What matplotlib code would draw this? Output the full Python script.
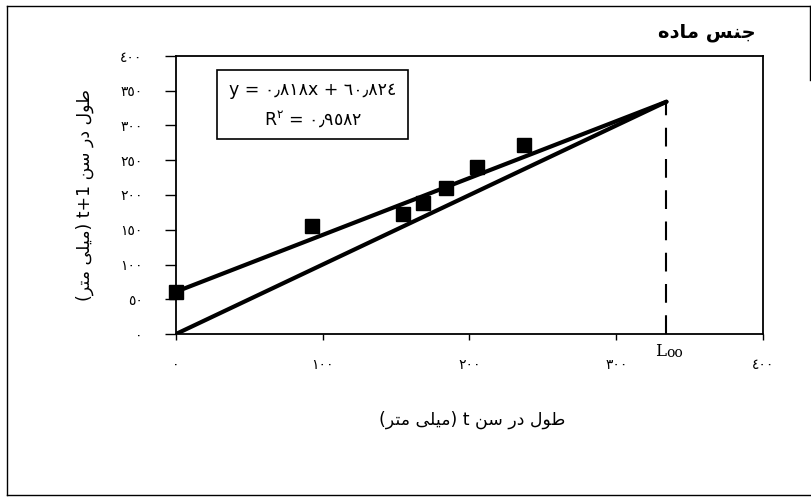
import re
import numpy as np
import matplotlib
matplotlib.use('Agg')
import matplotlib.pyplot as plt
from matplotlib.patches import Rectangle
from matplotlib.lines import Line2D

# lengths at age t and t+1 (mm)
len_t = [0, 93, 155, 168, 184, 205, 237]
len_t1 = [60, 156, 172, 189, 210, 241, 272]

slope = 0.818
intercept = 60.824
x_ticks = [0, 100, 200, 300, 400]
y_ticks = [0, 50, 100, 150, 200, 250, 300, 350, 400]

title = 'جنس ماده'
xlabel = 'طول در سن t (میلی متر)'
ylabel = 'طول در سن t+1 (میلی متر)'
eq_text = 'y = ٠٫٨١٨x + ٦٠٫٨٢٤'
r2_text = r'$\mathregular{R^{٢}}$ = ٠٫٩٥٨٢'

# matplotlib has no arabic shaping, so do it by hand with presentation forms
FORMS = {
    'ا': ('\uFE8D', '\uFE8E', None, None),
    'د': ('\uFEA9', '\uFEAA', None, None),
    'ر': ('\uFEAD', '\uFEAE', None, None),
    'و': ('\uFEED', '\uFEEE', None, None),
    'ج': ('\uFE9D', '\uFE9E', '\uFE9F', '\uFEA0'),
    'ن': ('\uFEE5', '\uFEE6', '\uFEE7', '\uFEE8'),
    'س': ('\uFEB1', '\uFEB2', '\uFEB3', '\uFEB4'),
    'م': ('\uFEE1', '\uFEE2', '\uFEE3', '\uFEE4'),
    'ه': ('\uFEE9', '\uFEEA', '\uFEEB', '\uFEEC'),
    'ط': ('\uFEC1', '\uFEC2', '\uFEC3', '\uFEC4'),
    'ل': ('\uFEDD', '\uFEDE', '\uFEDF', '\uFEE0'),
    'ت': ('\uFE95', '\uFE96', '\uFE97', '\uFE98'),
    'ی': ('\uFEEF', '\uFEF0', '\uFEF3', '\uFEF4'),
}


def shape(s):
    out = []
    for i, c in enumerate(s):
        f = FORMS.get(c)
        if f is None:
            out.append(c)
            continue
        prev = s[i - 1] if i > 0 else ''
        nxt = s[i + 1] if i + 1 < len(s) else ''
        jp = prev in FORMS and FORMS[prev][2] is not None
        jn = nxt in FORMS
        if jp and jn and f[3]:
            out.append(f[3])
        elif jp:
            out.append(f[1])
        elif jn and f[2]:
            out.append(f[2])
        else:
            out.append(f[0])
    return ''.join(out)


def fa(s):
    parts = re.findall(r'[A-Za-z0-9+]+|.', shape(s))
    mirror = {'(': ')', ')': '('}
    return ''.join(mirror.get(p, p) for p in reversed(parts))


def ar_num(v):
    return str(v).translate(str.maketrans('0123456789', '٠١٢٣٤٥٦٧٨٩'))


plt.rcParams['font.family'] = ['DejaVu Sans']

fig = plt.figure(figsize=(8.12, 4.97), dpi=100)
ax = fig.add_axes([176 / 812, 1 - 334 / 497, 587 / 812, 278 / 497])

L_inf = intercept / (1 - slope)

xs = np.array([0, L_inf])
ax.plot(xs, slope * xs + intercept, color='black', lw=3, solid_capstyle='round', zorder=3)
ax.plot(xs, xs, color='black', lw=3, solid_capstyle='round', zorder=3)
ax.plot([L_inf, L_inf], [0, L_inf], color='black', lw=1.5, dashes=(9, 6), zorder=2)
ax.plot(len_t, len_t1, 's', color='black', ms=10.5, clip_on=False, zorder=4)

ax.set_xlim(0, 400)
ax.set_ylim(0, 400)
ax.set_xticks(x_ticks)
ax.set_xticklabels([ar_num(v) for v in x_ticks], fontsize=10)
ax.set_yticks(y_ticks)
ax.set_yticklabels([ar_num(v) for v in y_ticks], fontsize=10)
ax.tick_params(axis='x', direction='out', length=4, width=1, pad=13)
ax.tick_params(axis='y', direction='out', length=8, width=1, pad=16)
for sp in ax.spines.values():
    sp.set_linewidth(1.3)

ax.text(L_inf, -0.062, 'L', transform=ax.get_xaxis_transform(), fontsize=12,
        family='DejaVu Serif', ha='right', va='center')
ax.text(L_inf, -0.068, 'oo', transform=ax.get_xaxis_transform(), fontsize=10,
        family='DejaVu Serif', ha='left', va='center')

# equation box
ax.add_patch(Rectangle((41 / 587, 195 / 278), 191 / 587, 69 / 278, transform=ax.transAxes,
                       fc='white', ec='black', lw=1.2, zorder=5))
ax.text(137 / 587, (334 - 90) / 278, eq_text, transform=ax.transAxes, fontsize=12.5,
        ha='center', va='center', zorder=6)
ax.text(137 / 587, (334 - 120) / 278, r2_text, transform=ax.transAxes, fontsize=12.5,
        ha='center', va='center', zorder=6)

fig.text(472 / 812, 1 - 420 / 497, fa(xlabel), fontsize=12.5, ha='center', va='center')
fig.text(85 / 812, 1 - 195 / 497, fa(ylabel), fontsize=12.5, ha='center', va='center', rotation=90)
fig.text(756 / 812, 1 - 32 / 497, fa(title), fontsize=14, fontweight='bold', ha='right', va='center')

# outer frame
for xx, yy in [([7, 810], [6, 6]), ([7, 7], [6, 495]), ([7, 810], [495, 495]), ([810, 810], [6, 80])]:
    fig.add_artist(Line2D(np.array(xx) / 812, 1 - np.array(yy) / 497, color='black', lw=1))

fig.savefig('out.png', dpi=100)
